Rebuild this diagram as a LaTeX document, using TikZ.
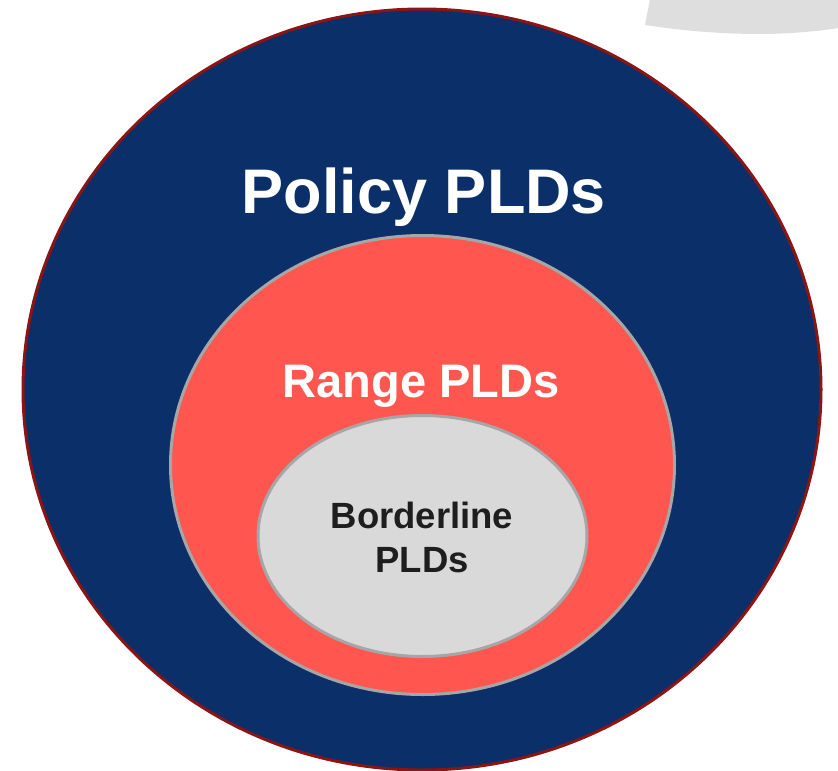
\documentclass[tikz,border=0pt]{standalone}
\usepackage{fontspec}
\setmainfont{Liberation Sans}
\definecolor{navyfill}{HTML}{0A2F69}
\definecolor{darkred}{HTML}{8B1414}
\definecolor{coral}{HTML}{FF5750}
\definecolor{lightgray}{HTML}{D9D9D9}
\definecolor{ringgray}{HTML}{A6A6A6}
\definecolor{pagegray}{HTML}{DEDEDE}
\definecolor{textdark}{HTML}{1E1E1E}
\begin{document}
\begin{tikzpicture}[x=1pt,y=-1pt,
  ring/.style={line width=3pt},
  lbl/.style={font=\bfseries, anchor=base, inner sep=0pt}]
\useasboundingbox (0,0) rectangle (838,771);
% partial gray shape top right
\fill[pagegray] (650,-1) -- (645,25) .. controls (690,32) and (730,34) .. (760,34)
  .. controls (790,34) and (820,31) .. (839,28) -- (839,-1) -- cycle;
% outer blue ellipse
\draw[ring, fill=navyfill, draw=darkred] (422,389.5) ellipse [x radius=399, y radius=380.5];
% middle coral ellipse
\draw[ring, fill=coral, draw=ringgray] (422.5,465) ellipse [x radius=252, y radius=229.5];
% inner gray ellipse
\draw[ring, fill=lightgray, draw=ringgray] (422.5,536) ellipse [x radius=164.5, y radius=120.5];
% labels
\node[lbl, text=white, font=\bfseries\fontsize{63}{70}\selectfont] (policy) at (424,213) {Policy PLDs};
\node[lbl, text=white, font=\bfseries\fontsize{47}{54}\selectfont] (range) at (421,397) {Range PLDs};
\node[lbl, text=textdark, font=\bfseries\fontsize{36.5}{44}\selectfont] (border1) at (422,528) {Borderline};
\node[lbl, text=textdark, font=\bfseries\fontsize{36.5}{44}\selectfont] (border2) at (422,572) {PLDs};
\end{tikzpicture}
\end{document}
